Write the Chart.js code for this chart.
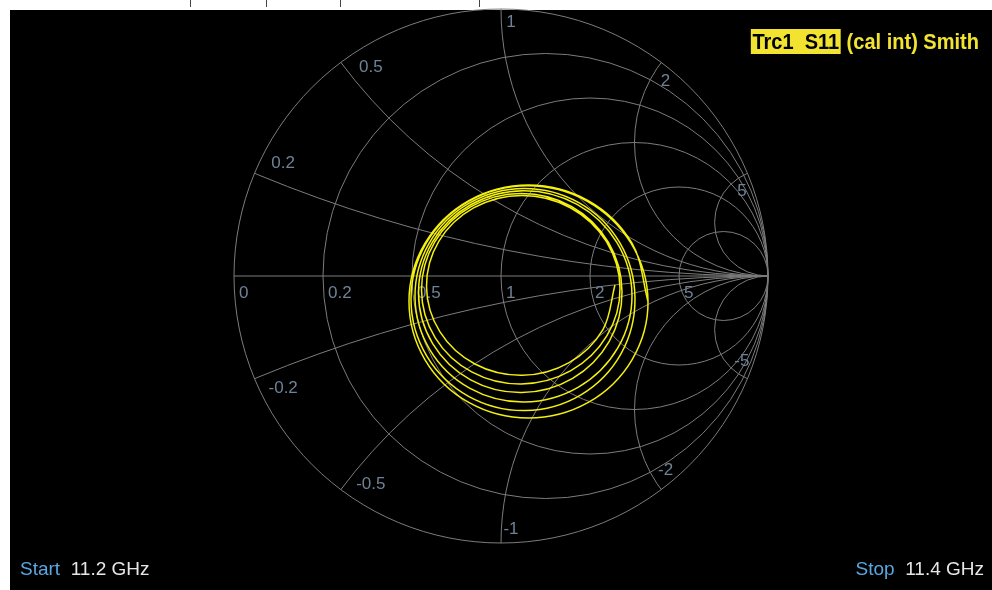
<!DOCTYPE html>
<html>
<head>
    <title>Trc1 S11 Smith</title>
    <script src="https://cdn.jsdelivr.net/npm/chart.js@4.4.0/dist/chart.umd.min.js"></script>
    <style>
        body { margin: 0; background: #fff; width: 992px; height: 590px; overflow: hidden; position: relative; }
        #smith { position: absolute; left: 0; top: 0; }
        .narrow { font-family: "Liberation Sans Narrow", "Arial Narrow", "Liberation Sans", sans-serif; position: absolute; white-space: pre; }
        #title { right: 13px; top: 29px; font-size: 22px; font-weight: bold; color: #f2e330; transform: scaleX(0.91); transform-origin: right center; }
        #title span { background: #f2e330; color: #000; padding: 0 2px; }
        #start { left: 20px; top: 558px; font-size: 19px; color: #e6e6e6; }
        #stop { right: 8px; top: 558px; font-size: 19px; color: #e6e6e6; }
        .lbl { color: #5aa6e0; }
    </style>
</head>
<body>
    <canvas id="smith" width="992" height="590"></canvas>
    <div id="title" class="narrow"><span>Trc1  S11</span> (cal int) Smith</div>
    <div id="start" class="narrow"><span class="lbl">Start</span>  11.2 GHz</div>
    <div id="stop" class="narrow"><span class="lbl">Stop</span>  11.4 GHz</div>
    <script>
        // grid values
        var resistances = [0, 0.2, 0.5, 1, 2, 5];
        var reactances = [0.2, 0.5, 1, 2, 5, -0.2, -0.5, -1, -2, -5];
        var resistanceLabels = ['0', '0.2', '0.5', '1', '2', '5'];
        var reactanceLabels = ['0.2', '0.5', '1', '2', '5', '-0.2', '-0.5', '-1', '-2', '-5'];

        // S11 trace, reflection coefficient (11.2 .. 11.4 GHz)
        var traceRe = [
            0.4269, 0.3818, 0.2550, 0.0796, -0.0977, -0.2291, -0.2790, -0.2330, -0.1027, 0.0777, 0.2600, 0.3949,
            0.4457, 0.3968, 0.2618, 0.0763, -0.1098, -0.2468, -0.2977, -0.2485, -0.1121, 0.0754, 0.2636, 0.4020,
            0.4532, 0.4053, 0.2683, 0.0782, -0.1139, -0.2560, -0.3090, -0.2574, -0.1137, 0.0847, 0.2851, 0.4338,
            0.4906, 0.4374, 0.2901, 0.0875, -0.1161, -0.2662, -0.3221, -0.2683, -0.1190, 0.0866, 0.2932, 0.4453,
            0.5018, 0.4498, 0.2994, 0.0903, -0.1215, -0.2784, -0.3371, -0.2801, -0.1211, 0.0988, 0.3214, 0.4869,
            0.5506, 0.4906, 0.3268, 0.1030, -0.1208, -0.2846, -0.3446, -0.2846, -0.1208, 0.1030, 0.3268, 0.4906,
            0.5506
        ];
        var traceIm = [
            -0.0337, -0.2005, -0.3243, -0.3718, -0.3295, -0.2083, -0.0403, 0.1295, 0.2549, 0.3016, 0.2557, 0.1286,
            -0.0468, -0.2236, -0.3547, -0.4045, -0.3592, -0.2305, -0.0525, 0.1272, 0.2598, 0.3089, 0.2606, 0.1265,
            -0.0581, -0.2447, -0.3833, -0.4364, -0.3890, -0.2532, -0.0647, 0.1259, 0.2668, 0.3193, 0.2680, 0.1256,
            -0.0712, -0.2696, -0.4164, -0.4720, -0.4209, -0.2765, -0.0768, 0.1244, 0.2727, 0.3277, 0.2736, 0.1237,
            -0.0824, -0.2905, -0.4449, -0.5038, -0.4506, -0.2990, -0.0890, 0.1231, 0.2797, 0.3380, 0.2810, 0.1228,
            -0.0955, -0.3137, -0.4733, -0.5318, -0.4733, -0.3137, -0.0955, 0.1227, 0.2823, 0.3408, 0.2823, 0.1227,
            -0.0955
        ];

        var tracePoints = traceRe.map(function (re, i) { return { x: re, y: traceIm[i] }; });

        var gridColor = '#7c7c7c';
        var labelColor = '#6f8296';

        var smithGrid = {
            id: 'smithGrid',
            beforeDraw: function (chart) {
                var ctx = chart.ctx;
                ctx.save();
                ctx.fillStyle = '#000';
                ctx.fillRect(10, 10, 982, 580);
                // bits of the toolbar above the screen
                ctx.strokeStyle = '#444';
                ctx.lineWidth = 1;
                [190, 266, 340, 479].forEach(function (x) {
                    ctx.beginPath();
                    ctx.moveTo(x + 0.5, 0);
                    ctx.lineTo(x + 0.5, 7);
                    ctx.stroke();
                });
                ctx.restore();
            },
            beforeDatasetsDraw: function (chart) {
                var ctx = chart.ctx;
                var xs = chart.scales.x, ys = chart.scales.y;
                var px = function (v) { return xs.getPixelForValue(v); };
                var py = function (v) { return ys.getPixelForValue(v); };
                var unit = px(1) - px(0);
                var cx = px(0), cy = py(0);

                ctx.save();
                ctx.strokeStyle = gridColor;
                ctx.lineWidth = 1;

                // horizontal axis
                ctx.beginPath();
                ctx.moveTo(px(-1), cy);
                ctx.lineTo(px(1), cy);
                ctx.stroke();

                // constant resistance circles
                resistances.forEach(function (r) {
                    ctx.beginPath();
                    ctx.arc(px(r / (1 + r)), cy, unit / (1 + r), 0, Math.PI * 2);
                    ctx.stroke();
                });

                // constant reactance arcs, clipped to the unit circle
                ctx.save();
                ctx.beginPath();
                ctx.arc(cx, cy, unit, 0, Math.PI * 2);
                ctx.clip();
                reactances.forEach(function (x) {
                    ctx.beginPath();
                    ctx.arc(px(1), py(1 / x), unit / Math.abs(x), 0, Math.PI * 2);
                    ctx.stroke();
                });
                ctx.restore();

                // labels
                ctx.fillStyle = labelColor;
                ctx.font = '17px "Liberation Sans Narrow", "Arial Narrow", sans-serif';
                ctx.textBaseline = 'middle';
                ctx.textAlign = 'left';
                resistances.forEach(function (r, i) {
                    ctx.fillText(resistanceLabels[i], px((r - 1) / (r + 1)) + 5, cy + 17);
                });
                ctx.textAlign = 'center';
                reactances.forEach(function (x, i) {
                    var a = Math.atan2(2 * x, x * x - 1);
                    var ax = Math.abs(x);
                    var shift = (ax < 1 ? 4.5 : (ax === 1 ? 1.8 : 3)) * Math.PI / 180;
                    a -= Math.sign(x) * shift;
                    var rad = ax < 1 ? 0.925 : 0.95;
                    ctx.fillText(reactanceLabels[i], px(rad * Math.cos(a)) + 2, py(rad * Math.sin(a)));
                });
                ctx.restore();
            }
        };

        var ctx = document.getElementById('smith').getContext('2d');
        var chart = new Chart(ctx, {
            type: 'scatter',
            data: {
                datasets: [{
                    label: 'Trc1 S11',
                    data: tracePoints,
                    showLine: true,
                    borderColor: '#f4f010',
                    borderWidth: 1.5,
                    pointRadius: 0,
                    tension: 0.35,
                    fill: false
                }]
            },
            options: {
                responsive: false,
                animation: false,
                layout: { padding: 0 },
                plugins: { legend: { display: false }, tooltip: { enabled: false } },
                scales: {
                    x: { type: 'linear', display: false, min: -501 / 267, max: 491 / 267 },
                    y: { type: 'linear', display: false, min: -314 / 267, max: 276 / 267 }
                }
            },
            plugins: [smithGrid]
        });
    </script>
</body>
</html>
